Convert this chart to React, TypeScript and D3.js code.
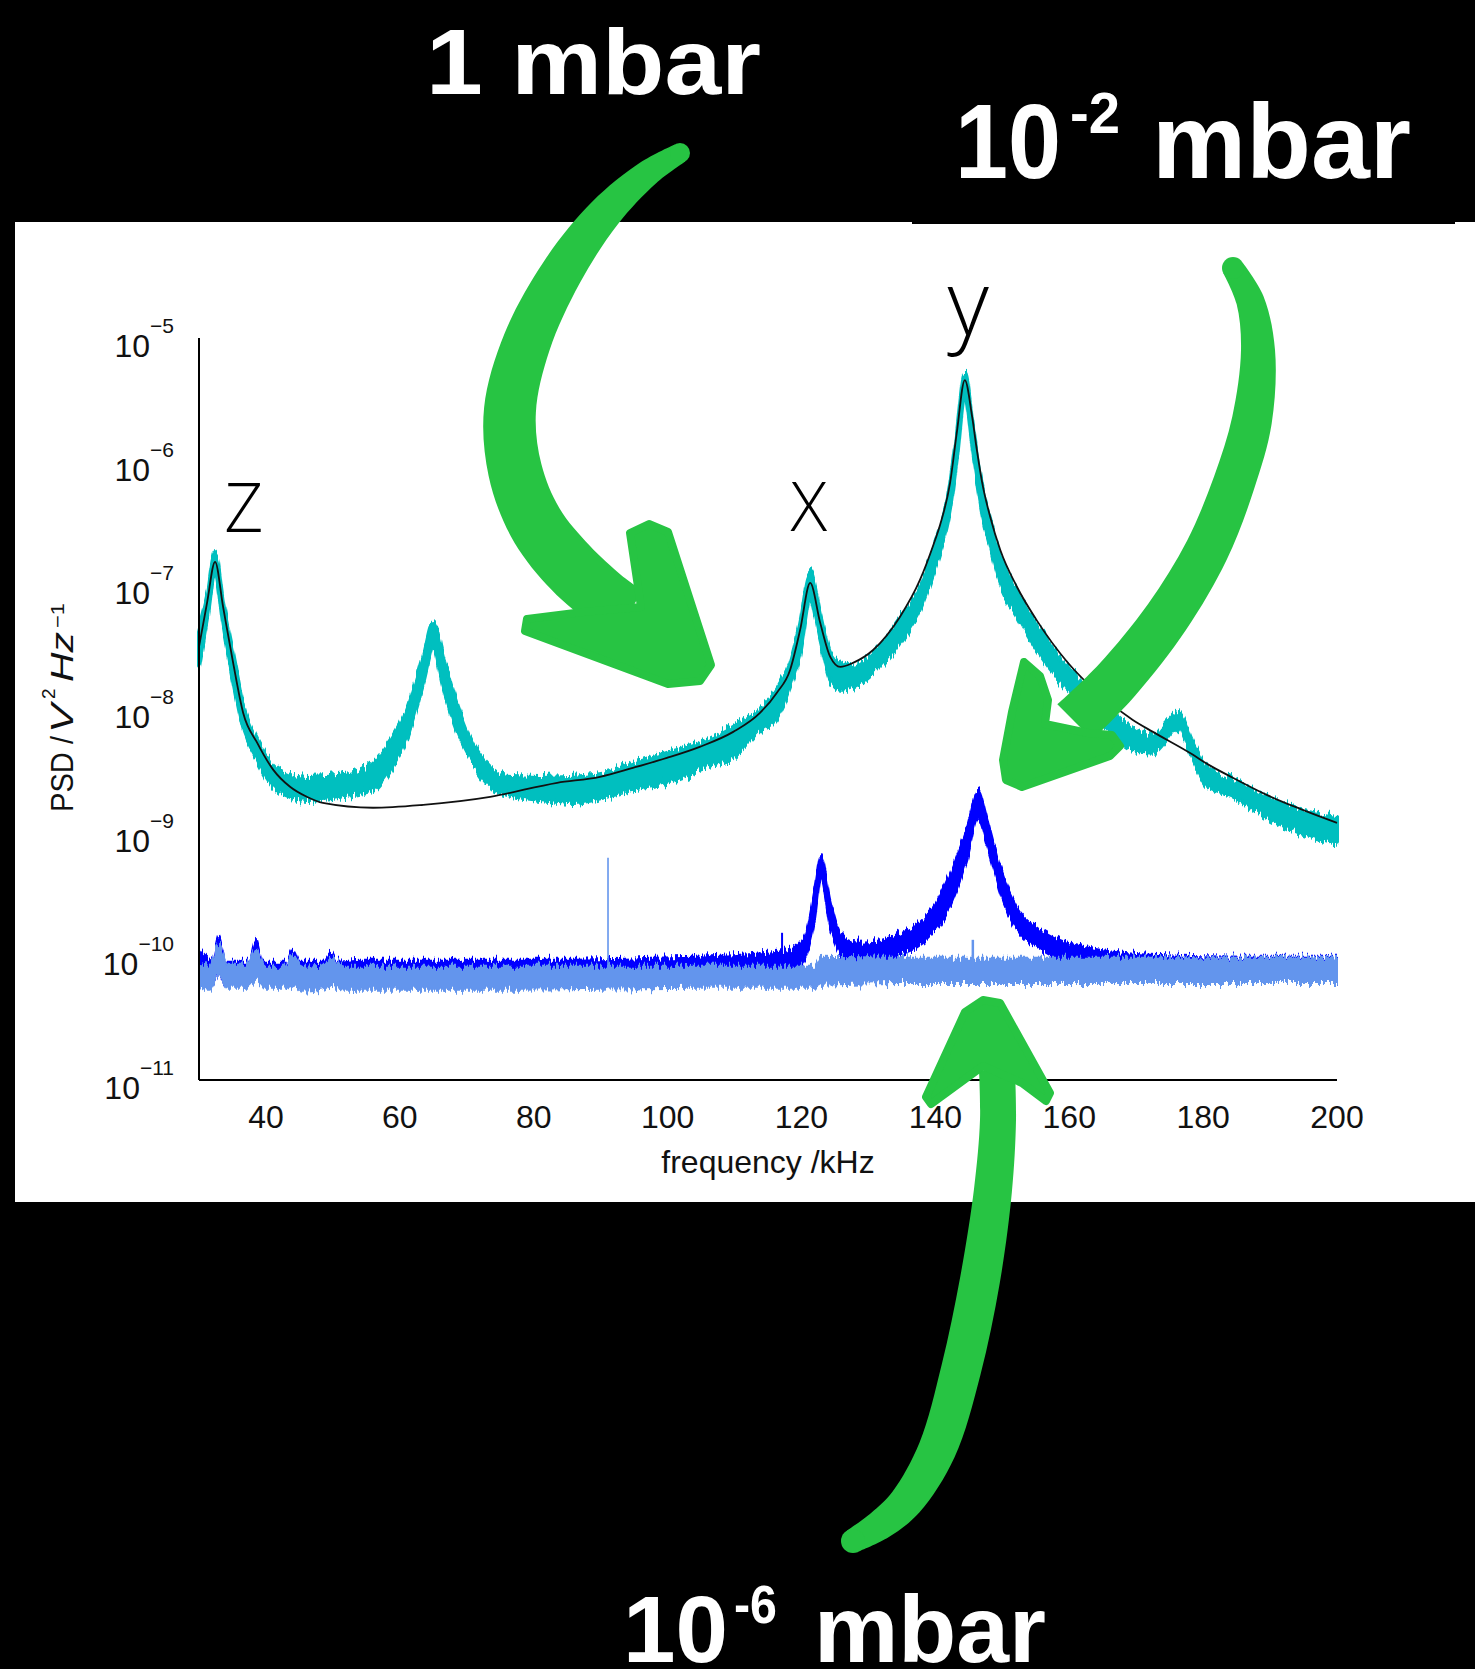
import React from 'react';
import * as d3 from 'd3';

// ---------------- data ----------------
const xTickValues = [40, 60, 80, 100, 120, 140, 160, 180, 200];
const yTickExponents = [-5, -6, -7, -8, -9, -10, -11];

// 1 mbar measured PSD (noisy band: upper / lower envelope), V^2/Hz
const cyanFreq = [30.0, 31.2, 32.4, 33.6, 35.1, 36.6, 38.7, 41.1, 43.6, 46.1, 51.1, 56.0, 58.5, 61.1, 63.5, 65.0, 66.5, 68.5, 70.9, 73.5, 76.0, 80.9, 85.9, 90.9, 94.8, 99.9, 104.8, 109.8, 113.8, 116.3, 118.3, 119.8, 121.3, 122.8, 124.3, 125.8, 127.7, 130.7, 134.7, 137.7, 139.7, 140.7, 142.2, 143.2, 144.4, 145.5, 146.2, 147.0, 148.2, 149.7, 152.2, 155.2, 159.7, 164.6, 169.5, 172.5, 174.3, 176.3, 178.5, 180.6, 184.5, 189.5, 194.5, 200];
const cyanUpper = [4.36e-8, 8.06e-8, 1.86e-7, 7.21e-8, 2.74e-8, 1.08e-8, 5.63e-9, 3.53e-9, 2.93e-9, 2.77e-9, 2.88e-9, 3.67e-9, 5.32e-9, 9.83e-9, 2.64e-8, 5.06e-8, 2.64e-8, 1.12e-8, 5.32e-9, 3.40e-9, 2.83e-9, 2.77e-9, 2.83e-9, 3.04e-9, 3.67e-9, 4.42e-9, 5.32e-9, 7.17e-9, 9.83e-9, 1.43e-8, 2.36e-8, 4.97e-8, 1.28e-7, 5.98e-8, 2.84e-8, 2.36e-8, 2.19e-8, 2.84e-8, 5.25e-8, 9.70e-8, 1.93e-7, 2.81e-7, 6.48e-7, 1.644e-6, 5.21e-6, 2.17e-6, 1.133e-6, 6.13e-7, 3.25e-7, 1.70e-7, 8.84e-8, 4.70e-8, 2.19e-8, 1.184e-8, 7.03e-9, 5.95e-9, 7.44e-9, 9.30e-9, 5.32e-9, 3.40e-9, 2.67e-9, 1.95e-9, 1.53e-9, 1.34e-9];
const cyanLower = [2.19e-8, 5.25e-8, 1.28e-7, 4.78e-8, 1.72e-8, 7.03e-9, 3.88e-9, 2.35e-9, 1.95e-9, 1.84e-9, 1.95e-9, 2.22e-9, 3.22e-9, 5.95e-9, 1.63e-8, 3.12e-8, 1.51e-8, 6.78e-9, 3.67e-9, 2.35e-9, 2.02e-9, 1.84e-9, 1.74e-9, 1.95e-9, 2.22e-9, 2.53e-9, 3.22e-9, 4.10e-9, 6.78e-9, 8.63e-9, 1.51e-8, 2.84e-8, 7.62e-8, 3.62e-8, 1.72e-8, 1.43e-8, 1.51e-8, 1.96e-8, 3.42e-8, 6.33e-8, 1.28e-7, 1.86e-7, 4.07e-7, 1.032e-6, 3.46e-6, 1.365e-6, 7.38e-7, 3.92e-7, 2.12e-7, 1.007e-7, 5.76e-8, 3.00e-8, 1.43e-8, 7.86e-9, 4.67e-9, 4.42e-9, 5.42e-9, 7.03e-9, 3.88e-9, 2.35e-9, 1.95e-9, 1.34e-9, 9.96e-10, 8.27e-10];

// fit curve for 1 mbar
const fitFreq = [30.0, 31.2, 32.4, 33.6, 35.1, 36.6, 38.7, 41.1, 43.6, 46.1, 48.5, 56.0, 63.5, 73.5, 83.5, 89.9, 94.8, 99.9, 104.8, 109.8, 113.8, 116.3, 118.3, 119.8, 121.3, 122.8, 124.3, 125.8, 127.7, 130.7, 134.7, 137.7, 139.7, 140.7, 142.2, 143.2, 144.4, 145.5, 146.2, 147.0, 148.2, 149.7, 152.2, 155.2, 159.7, 164.6, 169.5, 172.5, 178.5, 180.6, 184.5, 189.5, 194.5, 200];
const fitPSD = [3.18e-8, 7.21e-8, 1.55e-7, 6.69e-8, 2.36e-8, 9.30e-9, 5.32e-9, 3.22e-9, 2.35e-9, 1.95e-9, 1.74e-9, 1.59e-9, 1.68e-9, 1.95e-9, 2.53e-9, 2.83e-9, 3.34e-9, 4.02e-9, 4.94e-9, 6.53e-9, 9.30e-9, 1.35e-8, 2.07e-8, 4.36e-8, 1.045e-7, 4.97e-8, 2.64e-8, 2.19e-8, 2.36e-8, 3.00e-8, 5.55e-8, 1.105e-7, 2.12e-7, 3.08e-7, 6.73e-7, 1.706e-6, 4.57e-6, 2.30e-6, 1.243e-6, 6.73e-7, 3.57e-7, 1.93e-7, 9.70e-8, 5.16e-8, 2.40e-8, 1.30e-8, 8.16e-9, 6.53e-9, 4.26e-9, 3.60e-9, 2.77e-9, 2.02e-9, 1.557e-9, 1.20e-9];

// 10^-2 mbar
const blueFreq = [30.0, 32.0, 33.0, 34.0, 35.7, 37.5, 38.5, 39.5, 41.2, 43.0, 44.0, 45.0, 46.7, 48.6, 49.6, 50.6, 54.1, 67.5, 82.4, 97.4, 110.8, 118.3, 120.5, 122.0, 122.9, 124.3, 125.3, 126.8, 128.7, 134.7, 139.7, 142.2, 144.7, 146.4, 147.7, 149.7, 152.2, 155.2, 158.6, 164.6, 172.1, 187.0, 200];
const blueUpper = [1.17e-10, 9.37e-11, 1.44e-10, 9.03e-11, 9.03e-11, 9.03e-11, 1.36e-10, 9.03e-11, 9.03e-11, 9.03e-11, 1.13e-10, 9.03e-11, 9.03e-11, 9.03e-11, 1.07e-10, 9.03e-11, 9.37e-11, 9.37e-11, 9.37e-11, 9.72e-11, 1.03e-10, 1.13e-10, 1.49e-10, 3.64e-10, 6.61e-10, 2.86e-10, 1.80e-10, 1.36e-10, 1.285e-10, 1.55e-10, 2.51e-10, 4.73e-10, 1.114e-9, 2.22e-9, 1.34e-9, 5.29e-10, 2.51e-10, 1.73e-10, 1.36e-10, 1.13e-10, 1.03e-10, 9.91e-11, 9.91e-11];
const blueLower = [6.22e-11, 5.88e-11, 7.09e-11, 5.88e-11, 5.88e-11, 5.88e-11, 6.70e-11, 5.88e-11, 5.88e-11, 5.88e-11, 6.22e-11, 5.88e-11, 5.88e-11, 5.88e-11, 6.10e-11, 5.88e-11, 5.88e-11, 5.88e-11, 5.88e-11, 6.10e-11, 6.46e-11, 7.09e-11, 9.37e-11, 1.97e-10, 4.15e-10, 1.70e-10, 1.17e-10, 9.37e-11, 9.03e-11, 1.03e-10, 1.55e-10, 2.51e-10, 6.03e-10, 1.27e-9, 7.97e-10, 3.26e-10, 1.64e-10, 1.19e-10, 9.37e-11, 8.07e-11, 7.09e-11, 6.46e-11, 6.10e-11];
const blueSpikeFreq = [117.1];
const blueSpikeTop = [1.55e-10];

// 10^-6 mbar
const lightFreq = [30.0, 31.6, 33.0, 34.3, 37.1, 38.5, 39.9, 42.6, 44.0, 45.4, 48.2, 49.6, 51.8, 75.0, 104.8, 122.0, 123.1, 134.7, 164.6, 200];
const lightUpper = [8.86e-11, 8.54e-11, 1.24e-10, 8.54e-11, 8.54e-11, 1.13e-10, 8.23e-11, 8.23e-11, 1.03e-10, 8.07e-11, 8.23e-11, 9.37e-11, 8.23e-11, 8.23e-11, 8.23e-11, 8.23e-11, 9.91e-11, 9.72e-11, 9.72e-11, 9.72e-11];
const lightLower = [5.67e-11, 5.36e-11, 7.09e-11, 5.56e-11, 5.56e-11, 6.46e-11, 5.56e-11, 5.56e-11, 5.88e-11, 5.16e-11, 5.36e-11, 5.67e-11, 5.36e-11, 5.36e-11, 5.56e-11, 5.56e-11, 5.88e-11, 6.10e-11, 6.10e-11, 6.10e-11];
const lightSpikeFreq = [91.1, 145.6];
const lightSpikeTop = [6.26e-10, 1.36e-10];
const spikeBase = 8.0e-11;

// peak labels (frequency kHz, PSD at baseline)
const peakLabels = [
  { text: 'Z', f: 36.7, v: 2.7e-7, size: 68 },
  { text: 'X', f: 121.1, v: 2.75e-7, size: 68 },
  { text: 'y', f: 144.9, v: 1.04e-5, size: 90 },
];

// ---------------- layout ----------------
const W = 1475;
const H = 1669;
const x = d3.scaleLinear().domain([30, 200]).range([199, 1337]);
const y = d3.scaleLog().domain([1e-11, 1e-5]).range([1080, 338]);

const GREEN = '#27c443';
const FONT = "'Liberation Sans', Arial, Helvetica, sans-serif";

function bandPath(freq: number[], upper: number[], lower: number[]) {
  const idx = freq.map((_, i) => i);
  return d3
    .area<number>()
    .x((i) => x(freq[i]))
    .y0((i) => y(lower[i]))
    .y1((i) => y(upper[i]))
    .curve(d3.curveMonotoneX)(idx) as string;
}

function linePath(freq: number[], vals: number[]) {
  const idx = freq.map((_, i) => i);
  return d3
    .line<number>()
    .x((i) => x(freq[i]))
    .y((i) => y(vals[i]))
    .curve(d3.curveMonotoneX)(idx) as string;
}

type P = [number, number];
function ribbon(pts: P[], widths: number[]) {
  const n = pts.length;
  const left: P[] = [];
  const right: P[] = [];
  for (let i = 0; i < n; i++) {
    const a = pts[Math.max(0, i - 1)];
    const b = pts[Math.min(n - 1, i + 1)];
    let tx = b[0] - a[0];
    let ty = b[1] - a[1];
    const L = Math.hypot(tx, ty) || 1;
    tx /= L;
    ty /= L;
    const nx = -ty;
    const ny = tx;
    const h = widths[i] / 2;
    left.push([pts[i][0] + nx * h, pts[i][1] + ny * h]);
    right.push([pts[i][0] - nx * h, pts[i][1] - ny * h]);
  }
  const line = d3.line<P>().curve(d3.curveCatmullRom.alpha(0.5));
  const l = line(left) as string;
  const r = line(right.reverse()) as string;
  return l + 'L' + r.slice(1) + 'Z';
}

// hand-drawn arrows (annotation shapes, pixel space)
const arrows: { shaft: P[]; widths: number[]; head: P[] }[] = [
  {
    shaft: [[680, 153], [648, 173], [605, 213], [562, 272], [527, 342], [510, 410], [515, 470], [535, 522], [568, 565], [605, 598], [630, 612]],
    widths: [20, 26, 34, 42, 48, 52, 54, 56, 58, 56, 50],
    head: [[527, 619], [583, 612], [641, 607], [630, 533], [649, 524], [668, 532], [711, 665], [700, 681], [668, 684], [525, 631]],
  },
  {
    shaft: [[1233, 268], [1250, 300], [1258, 350], [1252, 420], [1234, 483], [1207, 550], [1167, 617], [1117, 680], [1075, 722]],
    widths: [22, 28, 34, 40, 42, 44, 46, 48, 50],
    head: [[1024, 662], [1040, 676], [1048, 700], [1045, 724], [1088, 733], [1112, 735], [1120, 746], [1110, 756], [1022, 787], [1006, 780], [1003, 760], [1012, 712]],
  },
  {
    shaft: [[853, 1541], [880, 1525], [906, 1502], [937, 1450], [961, 1370], [980, 1280], [993, 1190], [998, 1120], [997, 1070]],
    widths: [24, 30, 34, 38, 40, 40, 38, 36, 36],
    head: [[983, 1000], [1000, 1003], [1050, 1093], [1046, 1101], [1022, 1083], [983, 1066], [931, 1104], [926, 1097], [965, 1012]],
  },
];

export default function App() {
  const headLine = d3.line<P>();
  return (
    <svg
      width={W}
      height={H}
      viewBox={`0 0 ${W} ${H}`}
      style={{ position: 'absolute', left: 0, top: 0, display: 'block' }}
    >
      <defs>
        <filter id="rough" x="-2%" y="-10%" width="104%" height="120%">
          <feTurbulence type="fractalNoise" baseFrequency="0.45 0.02" numOctaves={2} seed={4} result="noise" />
          <feColorMatrix
            in="noise"
            type="matrix"
            values="0 0 0 0 0.5  0 1 0 0 0  0 0 0 0 0  0 0 0 0 1"
            result="map"
          />
          <feDisplacementMap in="SourceGraphic" in2="map" scale={16} xChannelSelector="R" yChannelSelector="G" />
        </filter>
      </defs>
      <rect x={0} y={0} width={W} height={H} fill="#000" />
      {/* white chart panel */}
      <rect x={15} y={222} width={W - 15} height={980} fill="#fff" />
      <rect x={912} y={221} width={543} height={3} fill="#000" />

      {/* data */}
      <path d={bandPath(cyanFreq, cyanUpper, cyanLower)} fill="#00bfbf" stroke="#00bfbf" strokeWidth={4} strokeLinejoin="round" filter="url(#rough)" />
      <path d={linePath(fitFreq, fitPSD)} fill="none" stroke="#111" strokeWidth={1.8} />
      <path d={bandPath(blueFreq, blueUpper, blueLower)} fill="#0000ff" stroke="#0000ff" strokeWidth={2} strokeLinejoin="round" filter="url(#rough)" />
      {blueSpikeFreq.map((f, i) => (
        <line key={'bs' + i} x1={x(f)} x2={x(f)} y1={y(spikeBase)} y2={y(blueSpikeTop[i])} stroke="#0000ff" strokeWidth={2} />
      ))}
      <path d={bandPath(lightFreq, lightUpper, lightLower)} fill="#6495ed" stroke="#6495ed" strokeWidth={2} strokeLinejoin="round" filter="url(#rough)" />
      {lightSpikeFreq.map((f, i) => (
        <line key={'ls' + i} x1={x(f)} x2={x(f)} y1={y(spikeBase)} y2={y(lightSpikeTop[i])} stroke="#6495ed" strokeWidth={i === 0 ? 1.6 : 2.5} />
      ))}

      {/* axes */}
      <line x1={199} x2={199} y1={y(1e-5)} y2={y(1e-11)} stroke="#000" strokeWidth={2} />
      <line x1={x(30)} x2={x(200)} y1={y(1e-11)} y2={y(1e-11)} stroke="#000" strokeWidth={2} />
      {xTickValues.map((t) => (
        <text key={'xt' + t} x={x(t)} y={1128} textAnchor="middle" fontFamily={FONT} fontSize={32} fill="#111">
          {t}
        </text>
      ))}
      {yTickExponents.map((e) => (
        <text key={'yt' + e} x={174} y={y(Math.pow(10, e)) + 19} textAnchor="end" fontFamily={FONT} fontSize={32} fill="#111">
          <tspan>10</tspan>
          <tspan dy={-24} fontSize={21}>{'\u2212' + Math.abs(e)}</tspan>
        </text>
      ))}
      <text x={(x(30) + x(200)) / 2} y={1173} textAnchor="middle" fontFamily={FONT} fontSize={32} fill="#111">
        frequency /kHz
      </text>
      <g transform="translate(73,812) rotate(-90)" fontFamily={FONT} fontSize={31} fill="#111">
        <text x={0} y={0} textLength={76} lengthAdjust="spacingAndGlyphs">PSD /</text>
        <text x={79} y={0} fontStyle="italic" textLength={29} lengthAdjust="spacingAndGlyphs">V</text>
        <text x={113} y={-18} fontSize={19}>2</text>
        <text x={130} y={0} fontStyle="italic" textLength={50} lengthAdjust="spacingAndGlyphs">Hz</text>
        <text x={184} y={-9} fontSize={19} textLength={25} lengthAdjust="spacingAndGlyphs">{'\u22121'}</text>
      </g>

      {/* peak labels */}
      {peakLabels.map((p) => (
        <text key={p.text} x={x(p.f)} y={y(p.v)} textAnchor="middle" fontFamily="'Open Sans', sans-serif" fontWeight={300} fontSize={p.size} fill="#000">
          {p.text}
        </text>
      ))}

      {/* pressure captions */}
      <text x={426} y={94} fontFamily={FONT} fontWeight="bold" fontSize={92} fill="#fff" textLength={335} lengthAdjust="spacingAndGlyphs">
        1 mbar
      </text>
      <text x={955} y={178} fontFamily={FONT} fontWeight="bold" fontSize={106} fill="#fff" textLength={106} lengthAdjust="spacingAndGlyphs">10</text>
      <text x={1070} y={133} fontFamily={FONT} fontWeight="bold" fontSize={58} fill="#fff" textLength={50} lengthAdjust="spacingAndGlyphs">-2</text>
      <text x={1152} y={178} fontFamily={FONT} fontWeight="bold" fontSize={106} fill="#fff" textLength={259} lengthAdjust="spacingAndGlyphs">mbar</text>
      <text x={623} y={1662} fontFamily={FONT} fontWeight="bold" fontSize={95} fill="#fff" textLength={105} lengthAdjust="spacingAndGlyphs">10</text>
      <text x={734} y={1623} fontFamily={FONT} fontWeight="bold" fontSize={53} fill="#fff" textLength={43} lengthAdjust="spacingAndGlyphs">-6</text>
      <text x={814} y={1662} fontFamily={FONT} fontWeight="bold" fontSize={95} fill="#fff" textLength={232} lengthAdjust="spacingAndGlyphs">mbar</text>

      {/* green arrows */}
      {arrows.map((a, i) => (
        <g key={'ar' + i} fill={GREEN}>
          <path d={ribbon(a.shaft, a.widths)} />
          <circle cx={a.shaft[0][0]} cy={a.shaft[0][1]} r={a.widths[0] / 2} />
          <path d={(headLine(a.head) as string) + 'Z'} stroke={GREEN} strokeWidth={8} strokeLinejoin="round" />
        </g>
      ))}
    </svg>
  );
}
